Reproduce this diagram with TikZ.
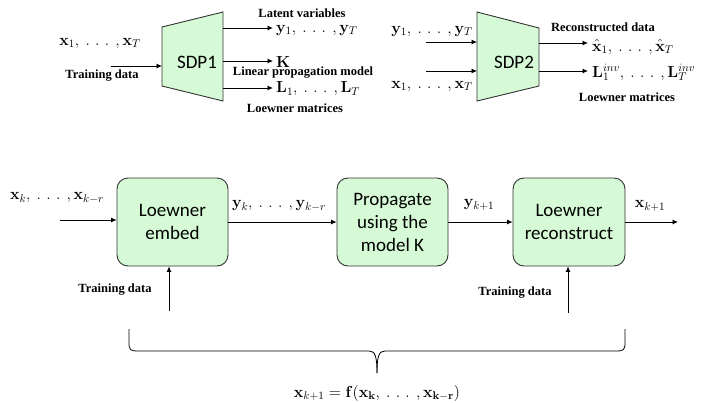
\RequirePackage{fix-cm}
\documentclass[tikz,border=0pt]{standalone}
\usepackage[no-math]{fontspec}
\newfontfamily\lblfont{Liberation Serif}
\newfontfamily\boxfont{Carlito}
\usetikzlibrary{arrows.meta}
\definecolor{boxgreen}{RGB}{213,250,213}
\definecolor{edgegray}{RGB}{50,50,50}
\newcommand\wdots{\mkern4mu\mathinner{.\mkern6mu.\mkern6mu.}\mkern4mu}
\begin{document}
\begin{tikzpicture}[x=1pt,y=-1pt,
  lbl/.style={font=\lblfont\bfseries\fontsize{12.5}{14}\selectfont, inner sep=0pt},
  mth/.style={font=\fontsize{16}{18}\selectfont, inner sep=0pt},
  arr/.style={-{Latex[length=5.5pt,width=5pt]}, line width=0.8pt},
  trap/.style={draw=edgegray, fill=boxgreen, line width=0.9pt},
  traplbl/.style={font=\boxfont\fontsize{19}{23}\selectfont, inner sep=0pt},
  blk/.style={draw=edgegray, fill=boxgreen, rounded corners=11pt, line width=0.9pt,
    minimum width=111pt, minimum height=88pt, align=center, inner sep=0pt,
    font=\boxfont\fontsize{19}{23}\selectfont}
]
\useasboundingbox (0,0) rectangle (706,402);

% ---------- SDP1 ----------
\draw[trap] (162,27) -- (223,12) -- (223,101) -- (162,86) -- cycle;
\node[traplbl] (sdp1) at (197,62) {SDP1};
\coordinate (s1in) at (162,66);
\coordinate (s1o1) at (223,28);
\coordinate (s1o2) at (223,61);
\coordinate (s1o3) at (223,88);
\coordinate (in1) at (111,66);
\coordinate (o1) at (273,28);
\coordinate (o2) at (273,61);
\coordinate (o3) at (273,88);
\draw[arr] (in1) -- (s1in);
\draw[arr] (s1o1) -- (o1);
\draw[arr] (s1o2) -- (o2);
\draw[arr] (s1o3) -- (o3);
\node[mth] (xs1) at (100,43) {$\mathbf{x}_1,\wdots,\mathbf{x}_T$};
\node[lbl] (td0) at (102,76) {Training data};
\node[lbl] (lv) at (302,13) {Latent variables};
\node[mth, anchor=west] (ys1) at (276,30) {$\mathbf{y}_1,\wdots,\mathbf{y}_T$};
\node[mth, anchor=west] (kk) at (276,62) {$\mathbf{K}$};
\node[lbl] (lpm) at (303,73) {Linear propagation model};
\node[mth, anchor=west] (ls1) at (276,89) {$\mathbf{L}_1,\wdots,\mathbf{L}_T$};
\node[lbl] (lm1) at (295,108) {Loewner matrices};

% ---------- SDP2 ----------
\draw[trap] (477,12) -- (539,28) -- (539,86) -- (477,101) -- cycle;
\node[traplbl] (sdp2) at (514,62) {SDP2};
\coordinate (s2i1) at (477,42);
\coordinate (s2i2) at (477,71);
\coordinate (s2o1) at (539,43);
\coordinate (s2o2) at (539,71);
\coordinate (i21) at (426,42);
\coordinate (i22) at (426,71);
\coordinate (o21) at (588,43);
\coordinate (o22) at (588,71);
\draw[arr] (i21) -- (s2i1);
\draw[arr] (i22) -- (s2i2);
\draw[arr] (s2o1) -- (o21);
\draw[arr] (s2o2) -- (o22);
\node[mth] (ys2) at (432,31) {$\mathbf{y}_1,\wdots,\mathbf{y}_T$};
\node[mth] (xs2) at (432,86) {$\mathbf{x}_1,\wdots,\mathbf{x}_T$};
\node[lbl] (rd) at (603,27) {Reconstructed data};
\node[mth, anchor=base west] (xh) at (592,51) {$\hat{\mathbf{x}}_1,\wdots,\hat{\mathbf{x}}_T$};
\node[mth, anchor=base west] (linv) at (592,77) {$\mathbf{L}_1^{inv},\wdots,\mathbf{L}_T^{inv}$};
\node[lbl] (lm2) at (627,97) {Loewner matrices};

% ---------- pipeline ----------
\node[blk] (b1) at (172.5,222) {Loewner\\embed};
\node[blk] (b2) at (392.5,222) {Propagate\\using the\\model K};
\node[blk, minimum width=112pt] (b3) at (569,222) {Loewner\\reconstruct};
\coordinate (xin) at (60,220);
\coordinate (xout) at (678,222);
\coordinate (td1) at (169,311);
\coordinate (td2) at (568,313);
\draw[arr] (xin) -- (xin -| b1.west);
\draw[arr] (b1) -- (b2);
\draw[arr] (b2) -- (b3);
\draw[arr] (b3) -- (xout);
\draw[arr] (td1) -- (td1 |- b1.south);
\draw[arr] (td2) -- (td2 |- b3.south);
\node[mth] (xk) at (57,198) {$\mathbf{x}_k,\wdots,\mathbf{x}_{k-r}$};
\node[mth] (yk) at (279,206) {$\mathbf{y}_k,\wdots,\mathbf{y}_{k-r}$};
\node[mth] (yk1) at (479,205) {$\mathbf{y}_{k+1}$};
\node[mth] (xk1) at (650,206) {$\mathbf{x}_{k+1}$};
\node[lbl] (tdl1) at (115,290) {Training data};
\node[lbl] (tdl2) at (515,293) {Training data};

% ---------- brace ----------
\draw[line width=0.8pt] (129,329) -- (129,343) .. controls (129,350) and (131,351) .. (137,351)
  -- (369,351) .. controls (375,351) and (377,356) .. (377,373);
\draw[line width=0.8pt] (625,329) -- (625,343) .. controls (625,350) and (623,351) .. (617,351)
  -- (385,351) .. controls (379,351) and (377,356) .. (377,373);
\node[mth, anchor=base] (fx) at (377,397) {$\mathbf{x}_{k+1}=\mathbf{f}(\mathbf{x}_{\mathbf{k}},\wdots,\mathbf{x}_{\mathbf{k-r}})$};
\end{tikzpicture}
\end{document}
